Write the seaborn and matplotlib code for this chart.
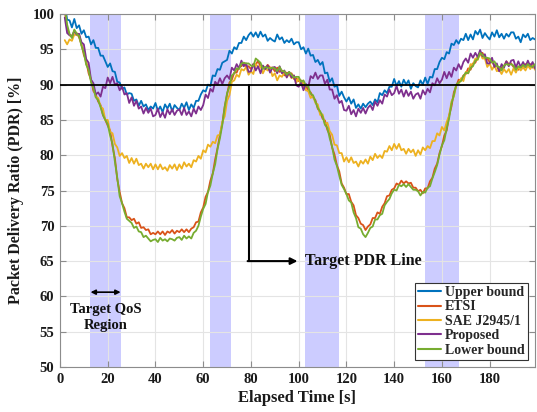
import numpy as np
import pandas as pd
import matplotlib
matplotlib.use("Agg")
import matplotlib.pyplot as plt
import seaborn as sns

# Elapsed time [s], one sample per second
time_s = np.arange(2, 200)

upper_bound = [
    101.5, 99.2, 99.1, 98.1, 99.3, 98.0, 98.4, 97.2,
    97.7, 96.7, 96.8, 95.7, 96.3, 95.2, 95.2, 94.1, 94.1, 93.3,
    92.5, 93.0, 91.9, 91.8, 90.4, 90.3, 89.4, 89.6, 88.6, 88.8,
    88.7, 87.7, 87.9, 87.0, 87.7, 86.9, 87.2, 86.4, 86.9, 86.6,
    87.4, 86.3, 86.9, 86.1, 87.2, 86.6, 87.3, 86.2, 87.1, 86.7,
    86.4, 87.3, 86.7, 87.5, 86.4, 87.2, 86.7, 87.7, 87.7, 88.6,
    89.2, 89.0, 90.0, 89.8, 91.3, 91.2, 92.2, 92.1, 93.1, 93.3,
    93.5, 94.8, 94.4, 95.3, 95.0, 95.9, 95.9, 96.8, 96.3, 97.0,
    97.4, 96.8, 97.4, 96.7, 97.5, 96.8, 97.1, 96.2, 96.6, 96.3,
    96.1, 97.1, 96.4, 96.7, 95.9, 96.3, 96.0, 96.5, 95.7, 96.0,
    96.0, 95.0, 95.3, 94.4, 95.1, 94.1, 94.2, 93.2, 93.5, 92.8,
    93.2, 91.6, 91.7, 90.4, 90.9, 89.7, 89.9, 88.4, 89.0, 88.2,
    87.6, 88.2, 87.3, 87.9, 86.7, 87.2, 86.6, 87.3, 86.8, 87.3,
    87.6, 87.1, 87.9, 87.5, 88.8, 88.5, 89.2, 88.8, 89.7, 89.7,
    90.8, 89.8, 90.5, 89.7, 90.7, 90.0, 90.6, 89.4, 90.2, 89.8,
    89.6, 90.6, 90.0, 91.0, 90.1, 91.1, 91.0, 92.2, 92.2, 93.2,
    93.8, 93.6, 94.6, 94.4, 95.8, 95.6, 96.3, 95.8, 96.5, 96.3,
    97.2, 96.3, 97.1, 96.4, 97.6, 97.1, 97.8, 96.6, 97.3, 96.8,
    96.4, 97.4, 96.8, 97.7, 96.7, 97.2, 96.5, 97.2, 96.8, 97.4,
    97.4, 96.5, 96.8, 96.0, 97.1, 96.7, 97.2, 96.3, 96.6, 96.4,
]

etsi = [
    100.5, 98.0, 97.0, 96.9, 97.5, 97.3, 96.7, 95.7,
    94.2, 93.3, 91.6, 90.7, 89.1, 88.6, 87.6, 87.1, 85.7, 85.0,
    84.2, 83.5, 81.3, 79.6, 76.6, 74.8, 73.2, 72.5, 71.2, 71.2,
    70.8, 71.0, 70.3, 70.5, 69.7, 69.8, 69.4, 69.5, 68.8, 69.0,
    68.8, 69.2, 68.8, 69.2, 68.7, 69.2, 69.0, 69.4, 68.9, 69.3,
    69.1, 69.5, 69.1, 69.5, 69.1, 69.6, 69.8, 70.5, 70.6, 71.9,
    72.6, 74.1, 74.8, 76.4, 77.4, 79.4, 81.0, 82.9, 84.5, 86.9,
    88.6, 90.3, 90.7, 91.7, 91.7, 92.5, 92.6, 93.1, 92.5, 92.6,
    92.2, 92.9, 92.8, 93.4, 92.5, 92.5, 92.3, 92.8, 92.4, 92.4,
    91.9, 92.4, 91.8, 92.0, 91.3, 91.7, 91.5, 91.6, 90.8, 90.9,
    90.5, 90.6, 89.8, 89.9, 89.1, 88.9, 88.2, 87.8, 86.6, 86.1,
    85.2, 84.9, 83.6, 82.9, 81.1, 80.1, 78.6, 77.7, 76.0, 75.4,
    74.5, 74.5, 73.4, 72.9, 71.5, 71.1, 70.3, 70.1, 69.4, 69.9,
    70.2, 71.1, 71.1, 71.9, 71.7, 72.7, 73.2, 74.2, 74.3, 75.1,
    75.3, 76.0, 75.8, 76.4, 76.0, 76.3, 76.0, 76.1, 75.4, 75.4,
    74.9, 75.1, 74.6, 75.3, 75.3, 76.3, 76.8, 78.1, 78.8, 80.3,
    81.3, 82.8, 83.5, 85.6, 86.9, 88.9, 89.8, 90.7, 90.6, 91.3,
    91.5, 92.3, 92.1, 93.0, 93.1, 94.0, 94.2, 94.5, 93.7, 93.7,
    93.2, 93.3, 92.6, 92.7, 91.9, 92.4, 92.6, 93.3, 92.9, 93.0,
    92.5, 92.7, 92.1, 92.6, 92.3, 92.9, 92.8, 92.9, 92.4, 92.8,
]

sae_j2945 = [
    96.3, 95.7, 96.4, 96.2, 97.1, 97.0, 97.1, 95.6,
    94.9, 92.9, 92.4, 90.5, 89.7, 88.2, 88.1, 86.9, 86.6, 85.0,
    85.0, 83.3, 83.1, 81.6, 81.1, 79.9, 80.3, 79.6, 79.9, 78.9,
    79.6, 78.8, 79.5, 78.6, 78.8, 78.1, 78.8, 78.3, 78.8, 78.0,
    78.7, 78.0, 78.7, 78.0, 78.3, 77.8, 78.6, 78.1, 78.7, 77.9,
    78.7, 78.1, 79.0, 78.4, 78.8, 78.3, 79.3, 79.1, 79.9, 79.5,
    80.7, 80.4, 81.5, 81.2, 81.9, 81.7, 82.8, 82.9, 84.7, 85.5,
    87.7, 88.5, 90.4, 90.6, 91.4, 91.1, 92.2, 92.0, 92.5, 91.4,
    91.9, 91.5, 92.9, 92.5, 92.6, 91.6, 92.3, 92.0, 92.4, 91.2,
    91.6, 90.6, 91.3, 91.1, 91.8, 91.1, 91.5, 90.9, 91.3, 90.3,
    90.9, 89.9, 90.3, 89.2, 89.1, 88.1, 88.4, 87.4, 87.2, 85.7,
    85.8, 84.4, 84.6, 83.4, 82.9, 81.5, 81.4, 80.3, 80.3, 79.1,
    79.7, 79.0, 79.7, 78.9, 79.1, 78.4, 79.2, 78.8, 79.4, 78.8,
    79.8, 79.3, 80.2, 79.6, 80.0, 79.6, 80.6, 80.5, 81.3, 80.7,
    81.6, 80.9, 81.6, 80.7, 80.9, 80.2, 80.9, 80.4, 80.8, 79.9,
    80.7, 80.1, 81.1, 80.7, 81.3, 81.0, 82.0, 82.0, 83.1, 82.8,
    84.0, 83.5, 84.7, 85.6, 87.6, 88.3, 89.9, 90.1, 90.9, 90.5,
    91.8, 91.6, 92.9, 92.8, 93.7, 93.5, 94.5, 93.7, 93.7, 92.5,
    93.0, 92.1, 92.7, 91.9, 92.1, 91.5, 92.2, 91.7, 92.2, 91.4,
    92.3, 91.7, 92.5, 92.0, 92.5, 92.0, 92.7, 92.2, 92.8, 92.1,
]

proposed = [
    99.5, 97.3, 97.0, 96.8, 97.6, 97.1, 97.2, 96.0,
    95.7, 93.6, 93.1, 90.7, 90.2, 88.6, 88.9, 88.3, 89.7, 89.5,
    91.0, 90.2, 91.1, 90.0, 90.2, 89.2, 89.7, 88.6, 88.8, 87.4,
    88.2, 87.0, 87.7, 86.6, 86.9, 85.9, 86.7, 86.0, 86.6, 85.5,
    85.7, 86.6, 85.4, 86.1, 85.3, 86.5, 85.8, 86.5, 85.7, 86.3,
    86.5, 85.7, 86.7, 85.7, 86.2, 85.5, 86.6, 85.9, 86.9, 86.4,
    87.1, 88.6, 88.1, 89.4, 89.0, 90.4, 90.0, 90.9, 90.1, 90.9,
    91.3, 90.8, 92.4, 92.0, 92.9, 92.3, 93.4, 92.6, 93.0, 91.8,
    91.9, 92.9, 92.0, 92.6, 91.6, 92.7, 92.2, 92.7, 91.7, 92.4,
    92.5, 91.6, 92.6, 91.6, 92.0, 91.0, 91.8, 91.0, 91.3, 89.9,
    89.7, 90.3, 89.2, 90.1, 89.6, 91.2, 90.9, 91.7, 90.8, 91.3,
    91.3, 90.1, 90.7, 89.3, 89.3, 88.0, 88.5, 87.4, 87.7, 86.4,
    86.3, 87.0, 85.8, 86.4, 85.5, 86.6, 86.0, 86.7, 85.9, 86.7,
    87.1, 86.4, 87.6, 87.0, 87.8, 87.3, 88.6, 88.3, 89.3, 88.5,
    88.8, 89.8, 88.7, 89.3, 88.3, 89.2, 88.4, 89.0, 88.0, 88.6,
    88.8, 88.0, 89.2, 88.6, 89.4, 88.9, 90.2, 89.9, 90.9, 90.2,
    90.7, 91.8, 90.9, 91.8, 91.1, 92.4, 92.0, 92.9, 92.2, 93.2,
    93.7, 93.1, 94.4, 93.8, 94.5, 93.9, 94.9, 94.0, 94.3, 93.0,
    93.0, 93.8, 92.5, 93.0, 91.9, 92.9, 92.4, 93.3, 92.6, 93.4,
    93.5, 92.4, 93.3, 92.5, 93.2, 92.5, 93.4, 92.6, 93.2, 92.3,
]

lower_bound = [
    101.0, 98.5, 97.2, 96.6, 97.8, 97.2, 96.9, 95.5,
    94.5, 92.8, 92.1, 90.4, 89.5, 88.2, 87.8, 86.8, 85.7, 85.0,
    84.4, 82.8, 81.6, 79.1, 76.8, 74.2, 73.2, 72.0, 71.0, 70.7,
    70.4, 69.7, 69.9, 69.2, 69.1, 68.4, 68.6, 68.2, 67.8, 68.0,
    68.1, 67.7, 68.3, 67.9, 68.1, 67.8, 68.2, 68.1, 67.9, 68.3,
    68.4, 68.0, 68.6, 68.2, 68.5, 68.2, 69.0, 69.3, 70.0, 71.3,
    72.4, 73.1, 74.8, 75.7, 77.4, 78.7, 80.9, 82.4, 84.3, 86.8,
    88.8, 89.7, 91.3, 91.6, 92.3, 92.2, 93.0, 93.1, 93.0, 93.0,
    92.7, 92.6, 93.7, 93.4, 93.1, 92.2, 92.5, 92.4, 92.3, 92.4,
    92.3, 91.9, 92.5, 91.9, 91.9, 91.4, 91.8, 91.4, 91.0, 91.1,
    91.1, 90.4, 90.6, 89.9, 89.7, 88.7, 88.5, 87.6, 86.7, 86.2,
    85.5, 84.3, 83.9, 82.4, 81.2, 79.4, 78.5, 77.1, 75.8, 75.2,
    74.5, 73.6, 73.3, 71.9, 71.1, 69.8, 69.6, 68.8, 68.4, 69.0,
    69.7, 69.9, 70.9, 70.9, 71.5, 71.7, 72.9, 73.4, 73.8, 74.6,
    75.1, 75.0, 75.8, 75.6, 75.9, 75.5, 75.9, 75.5, 75.1, 75.1,
    74.9, 74.3, 74.8, 74.7, 75.4, 75.6, 76.7, 77.6, 78.6, 80.1,
    81.4, 82.1, 83.8, 85.2, 87.3, 88.5, 90.0, 90.3, 90.5, 91.2,
    91.7, 91.6, 92.4, 92.6, 93.4, 93.6, 94.5, 94.2, 93.8, 93.8,
    93.7, 93.1, 93.3, 92.6, 92.5, 92.0, 92.7, 92.9, 92.8, 92.9,
    92.7, 92.1, 92.6, 92.4, 92.8, 92.5, 92.9, 92.6, 92.5, 92.9,
]

scheme_names = ["Upper bound", "ETSI", "SAE J2945/1", "Proposed", "Lower bound"]
scheme_colors = ["#0072BD", "#D95319", "#EDB120", "#7E2F8E", "#77AC30"]

# Time windows of the target QoS regions [s]
qos_regions = [(12.6, 25.4), (63.0, 71.5), (102.8, 116.8), (153.0, 167.0)]
target_pdr = 90

df = pd.concat(
    [
        pd.DataFrame({"time": time_s, "pdr": vals, "scheme": name})
        for name, vals in zip(
            scheme_names, [upper_bound, etsi, sae_j2945, proposed, lower_bound]
        )
    ],
    ignore_index=True,
)

sns.set_theme(style="whitegrid")
plt.rcParams["font.family"] = ["Liberation Serif", "DejaVu Serif"]
plt.rcParams["font.weight"] = "bold"
plt.rcParams["axes.labelweight"] = "bold"

fig = plt.figure(figsize=(5.37, 4.12), dpi=100)
ax = fig.add_axes([0.1117, 0.1092, 0.8846, 0.8568])
ax.set_facecolor("white")

for start, end in qos_regions:
    ax.axvspan(start, end, color="#ccccff", lw=0, zorder=0.2)

sns.lineplot(
    data=df, x="time", y="pdr", hue="scheme", hue_order=scheme_names,
    palette=scheme_colors, lw=1.3, ax=ax, zorder=2,
)

# Target PDR line and its callout
ax.axhline(target_pdr, color="black", lw=1.3, zorder=3)
ax.plot([79, 79], [target_pdr, 65], color="black", lw=1.5, zorder=3)
ax.annotate(
    "", xy=(99.5, 65), xytext=(78.6, 65),
    arrowprops=dict(arrowstyle="-|>", color="black", lw=1.5,
                    mutation_scale=10, shrinkA=0, shrinkB=0),
    zorder=3,
)
ax.text(102.5, 65, "Target PDR Line", fontsize=11.5, fontweight="bold",
        ha="left", va="center", color="#111111")

# Target QoS region marker
ax.annotate(
    "", xy=(12.8, 60.6), xytext=(25.4, 60.6),
    arrowprops=dict(arrowstyle="<|-|>", color="black", lw=1.2,
                    mutation_scale=7, shrinkA=0, shrinkB=0),
)
ax.text(19.0, 57.0, "Target QoS\nRegion", fontsize=10.5, fontweight="bold",
        ha="center", va="center", linespacing=1.25, color="#111111")

ax.set_xlim(0, 199)
ax.set_ylim(50, 100)
ax.set_xticks(range(0, 181, 20))
ax.set_yticks(range(50, 101, 5))
ax.grid(True, color="#e4e4e4", lw=0.8)
ax.set_axisbelow(True)
ax.tick_params(direction="in", top=True, right=True, bottom=True, left=True,
               length=4, width=0.8, color="#8c8c8c", labelsize=10.5,
               labelcolor="#1a1a1a", pad=4)
for spine in ax.spines.values():
    spine.set_color("#8c8c8c")
    spine.set_linewidth(0.8)

ax.set_xlabel("Elapsed Time [s]", fontsize=12, color="#1a1a1a", labelpad=3)
ax.set_ylabel("Packet Delivery Ratio (PDR) [%]", fontsize=11.5,
              color="#1a1a1a", labelpad=6)

handles, labels = ax.get_legend_handles_labels()
leg = ax.legend(
    handles, labels, loc="lower right", fontsize=10, frameon=True,
    fancybox=False, edgecolor="#333333", framealpha=1, borderpad=0.25,
    labelspacing=0.1, handlelength=1.6, handletextpad=0.3, borderaxespad=0.5,
)
leg.get_frame().set_linewidth(0.8)
for line in leg.get_lines():
    line.set_linewidth(1.5)

fig.savefig("out.png", dpi=100)
